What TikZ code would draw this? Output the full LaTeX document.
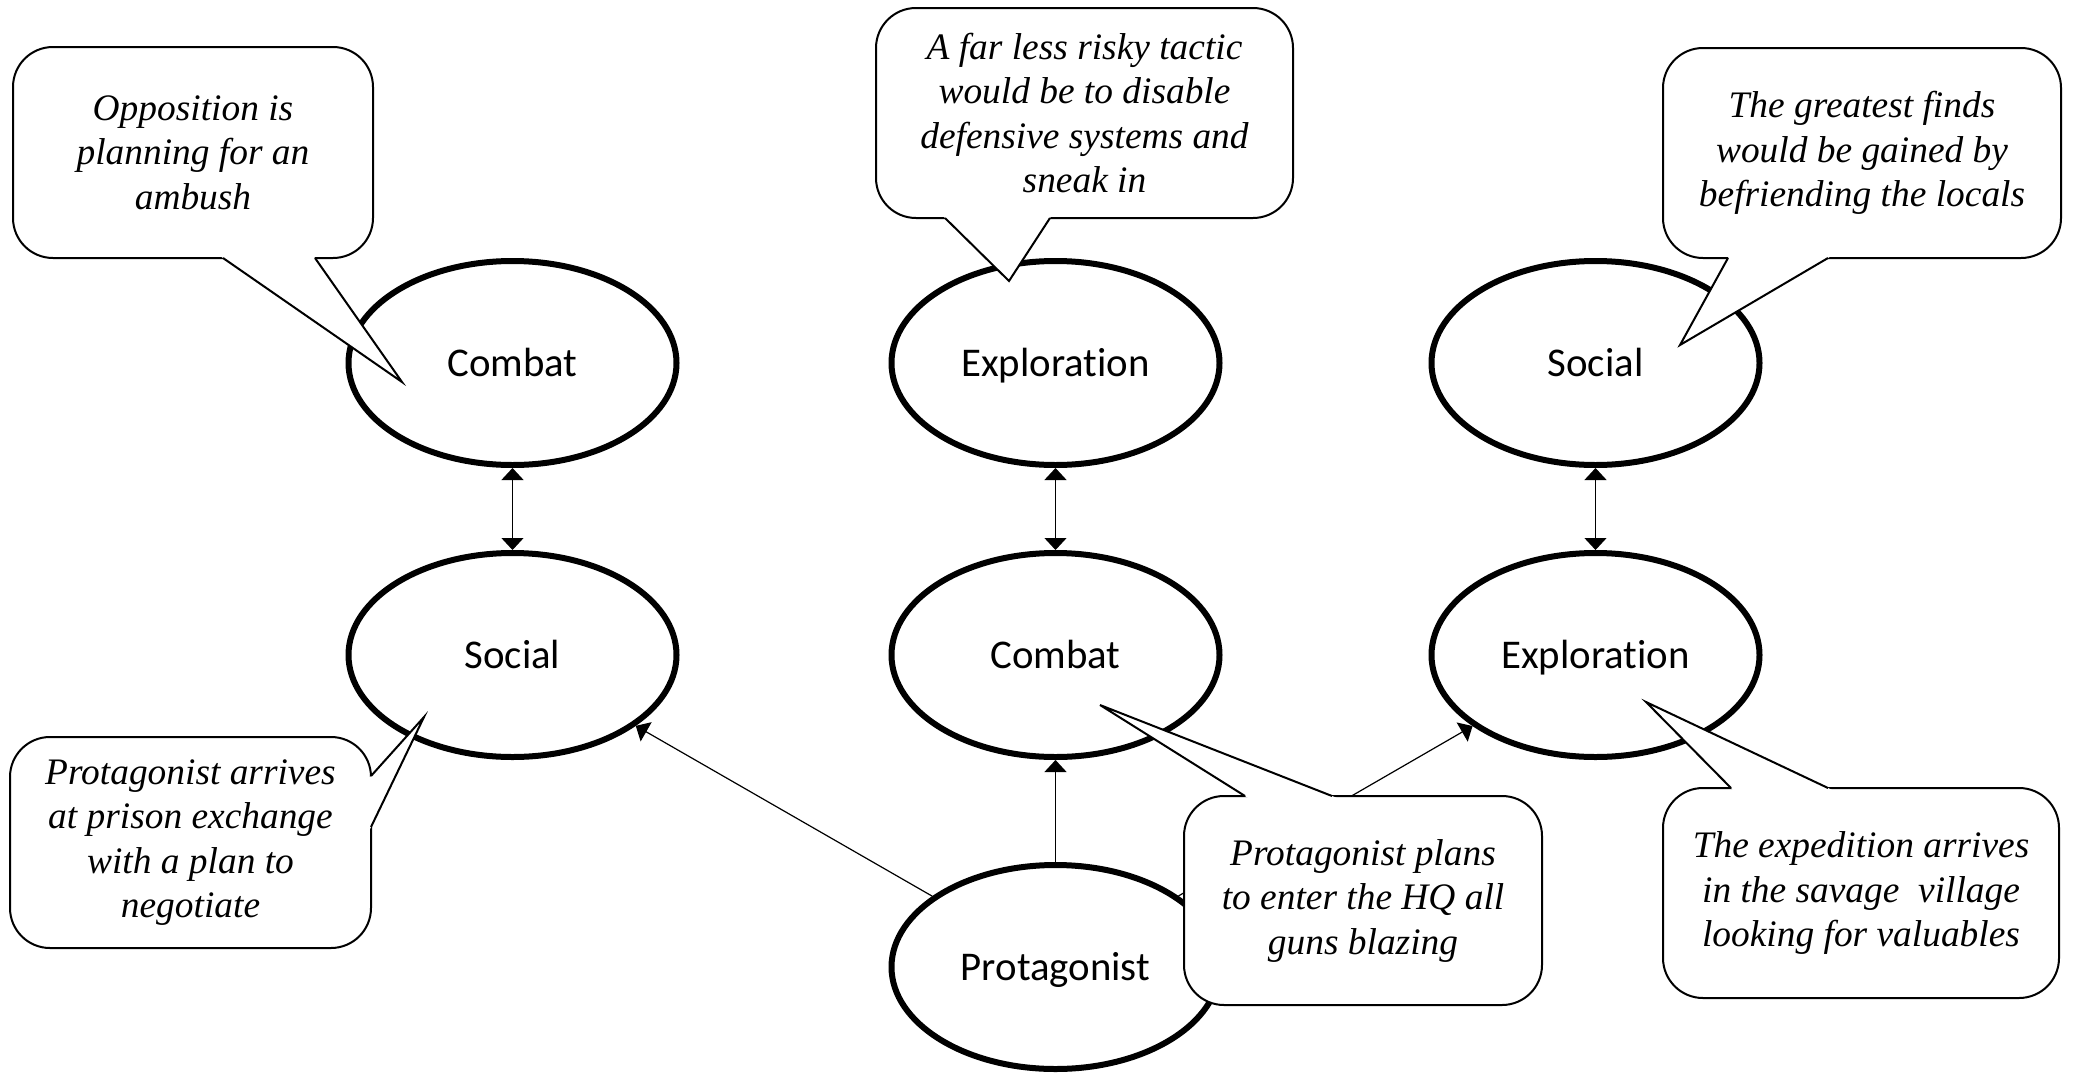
\documentclass[tikz,border=0pt]{standalone}
\usepackage{fontspec}
\setmainfont{Liberation Serif}
\newfontfamily\calib[Ligatures={NoCommon,NoRequired,NoContextual,NoDiscretionary}]{Carlito}
\usetikzlibrary{shapes.geometric,arrows.meta,calc}
\begin{document}
\begin{tikzpicture}[x=0.5pt,y=-0.5pt,
  stage/.style={draw, ellipse, line width=3pt, minimum width=164pt, minimum height=102pt, inner sep=0pt, fill=white, text height=16pt, text depth=2.5pt, font=\calib\fontsize{20.4}{24}\selectfont},
  arr/.style={line width=0.6pt, -{Triangle[length=6pt,width=11pt]}},
  darr/.style={line width=0.6pt, {Triangle[length=6pt,width=11pt]}-{Triangle[length=6pt,width=11pt]}},
  bubble/.style={draw, line width=1pt, fill=white, rounded corners=20pt},
  tail/.style={draw, line width=1pt, line join=miter},
  btext/.style={align=center, inner sep=0pt, font=\itshape\fontsize{18.7}{22.25}\selectfont}
]
\useasboundingbox[fill=white] (0,0) rectangle (2082,1076);

% stages
\node[stage] (c1) at (512.5,363) {Combat};
\node[stage] (e1) at (1055.5,363) {Exploration};
\node[stage] (s1) at (1595.5,363) {Social};
\node[stage] (s2) at (512.5,655) {Social};
\node[stage] (c2) at (1055.5,655) {Combat};
\node[stage] (e2) at (1595.5,655) {Exploration};
\node[stage] (p) at (1055.5,967) {Protagonist};

% connectors
\draw[darr] (c1) -- (s2);
\draw[darr] (e1) -- (c2);
\draw[darr] (s1) -- (e2);
\draw[arr] (p) -- (s2);
\draw[arr] (p) -- (c2);
\draw[arr] (p) -- (e2);

% callout 1
\coordinate (k1nw) at (13,47); \coordinate (k1se) at (373,258);
\coordinate (k1a) at (223,258); \coordinate (k1t) at (402,382); \coordinate (k1b) at (315,258);
\draw[bubble] (k1nw) rectangle (k1se);
\fill[white] ($(k1a)!-5pt!(k1t)$) -- (k1t) -- ($(k1b)!-5pt!(k1t)$) -- cycle;
\draw[tail] (k1a) -- (k1t) -- (k1b);
\node[btext] (t1) at ($(k1nw)!0.5!(k1se)$) {Opposition is\\planning for an\\ambush};

% callout 2
\coordinate (k2nw) at (876,8); \coordinate (k2se) at (1293,218);
\coordinate (k2a) at (945,218); \coordinate (k2t) at (1009,281); \coordinate (k2b) at (1050,218);
\draw[bubble] (k2nw) rectangle (k2se);
\fill[white] ($(k2a)!-5pt!(k2t)$) -- (k2t) -- ($(k2b)!-5pt!(k2t)$) -- cycle;
\draw[tail] (k2a) -- (k2t) -- (k2b);
\node[btext] (t2) at ($(k2nw)!0.5!(k2se)$) {A far less risky tactic\\would be to disable\\defensive systems and\\sneak in};

% callout 3
\coordinate (k3nw) at (1663,48); \coordinate (k3se) at (2061,258);
\coordinate (k3a) at (1728,258); \coordinate (k3t) at (1680,345); \coordinate (k3b) at (1828,258);
\draw[bubble] (k3nw) rectangle (k3se);
\fill[white] ($(k3a)!-5pt!(k3t)$) -- (k3t) -- ($(k3b)!-5pt!(k3t)$) -- cycle;
\draw[tail] (k3a) -- (k3t) -- (k3b);
\node[btext] (t3) at ($(k3nw)!0.5!(k3se)$) {The greatest finds\\would be gained by\\befriending the locals};

% callout 4
\coordinate (k4nw) at (10,737); \coordinate (k4se) at (371,948);
\coordinate (k4a) at (371,776); \coordinate (k4t) at (424,717); \coordinate (k4b) at (371,827);
\draw[bubble] (k4nw) rectangle (k4se);
\fill[white] ($(k4a)!-5pt!(k4t)$) -- (k4t) -- ($(k4b)!-5pt!(k4t)$) -- cycle;
\draw[tail] (k4a) -- (k4t) -- (k4b);
\node[btext] (t4) at ($(k4nw)!0.5!(k4se)$) {Protagonist arrives\\at prison exchange\\with a plan to\\negotiate};

% callout 5
\coordinate (k5nw) at (1184,796); \coordinate (k5se) at (1542,1005);
\coordinate (k5a) at (1245,796); \coordinate (k5t) at (1100,705); \coordinate (k5b) at (1332,796);
\draw[bubble] (k5nw) rectangle (k5se);
\fill[white] ($(k5a)!-5pt!(k5t)$) -- (k5t) -- ($(k5b)!-5pt!(k5t)$) -- cycle;
\draw[tail] (k5a) -- (k5t) -- (k5b);
\node[btext] (t5) at ($(k5nw)!0.5!(k5se)$) {Protagonist plans\\to enter the HQ all\\guns blazing};

% callout 6
\coordinate (k6nw) at (1663,788); \coordinate (k6se) at (2059,998);
\coordinate (k6a) at (1731,788); \coordinate (k6t) at (1646,702); \coordinate (k6b) at (1828,788);
\draw[bubble] (k6nw) rectangle (k6se);
\fill[white] ($(k6a)!-5pt!(k6t)$) -- (k6t) -- ($(k6b)!-5pt!(k6t)$) -- cycle;
\draw[tail] (k6a) -- (k6t) -- (k6b);
\node[btext] (t6) at ($(k6nw)!0.5!(k6se)$) {The expedition arrives\\in the savage~ village\\looking for valuables};
\end{tikzpicture}
\end{document}
